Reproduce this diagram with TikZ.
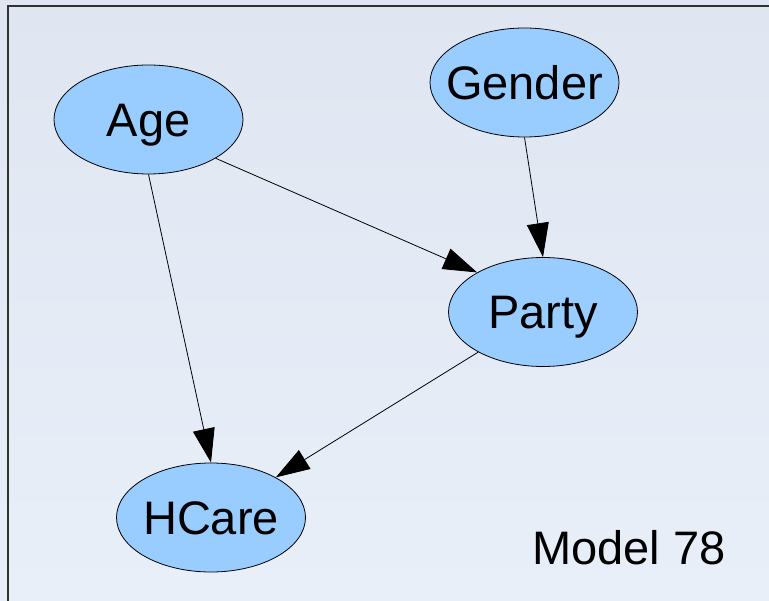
\documentclass[tikz,border=0pt]{standalone}
\usepackage{fontspec}
\setmainfont{Liberation Sans}
\usetikzlibrary{arrows.meta,shapes.geometric}
\definecolor{nodeblue}{RGB}{153,204,255}
\definecolor{bgtop}{RGB}{224,230,241}
\definecolor{bgbottom}{RGB}{233,239,249}
\definecolor{framegray}{RGB}{50,50,50}

\begin{document}
\begin{tikzpicture}[
    x=1pt, y=-1pt,
    n/.style={ellipse, draw, line width=0.8pt, fill=nodeblue, minimum width=189pt, minimum height=109pt, inner ysep=0pt, inner xsep=-12pt, font=\fontsize{47}{50}\selectfont, text height=34pt, text depth=0pt},
    e/.style={line width=0.8pt, -{Triangle[length=34pt,width=22pt]}}
]
    \useasboundingbox (0,0) rectangle (769,601);
    \shade[top color=bgtop, bottom color=bgbottom] (0,0) rectangle (769,601);
    \draw[framegray, line width=1.5pt] (8,601) -- (8,6) -- (769,6);

    \node[n] (age) at (148.5,119.5) {Age};
    \node[n] (gender) at (524.5,82.5) {Gender};
    \node[n] (party) at (543,312) {Party};
    \node[n] (hcare) at (211,517.5) {HCare};
    \node[font=\fontsize{47}{50}\selectfont, anchor=base west, inner sep=0pt] (model) at (532,565) {Model 78};

    \draw[e] (age.-30) -- (party.149);
    \draw[e] (gender.south) -- (party.north);
    \draw[e] (age.south) -- (hcare.north);
    \draw[e] (party) -- (hcare);
\end{tikzpicture}
\end{document}
